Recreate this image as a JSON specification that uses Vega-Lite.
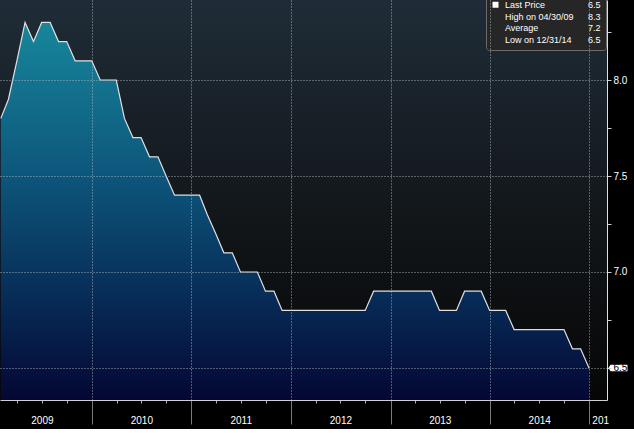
{
  "$schema": "https://vega.github.io/schema/vega-lite/v6.json",
  "width": 607,
  "height": 400,
  "autosize": "none",
  "padding": {"left": 0, "top": 0, "right": 27, "bottom": 29},
  "background": "#000000",
  "datasets": {
    "rate": [
      {"date": "2009-01-31", "rate": 7.8}, {"date": "2009-02-28", "rate": 7.9}, {"date": "2009-03-31", "rate": 8.1},
      {"date": "2009-04-30", "rate": 8.3}, {"date": "2009-05-31", "rate": 8.2}, {"date": "2009-06-30", "rate": 8.3},
      {"date": "2009-07-31", "rate": 8.3}, {"date": "2009-08-31", "rate": 8.2}, {"date": "2009-09-30", "rate": 8.2},
      {"date": "2009-10-31", "rate": 8.1}, {"date": "2009-11-30", "rate": 8.1}, {"date": "2009-12-31", "rate": 8.1},
      {"date": "2010-01-31", "rate": 8.0}, {"date": "2010-02-28", "rate": 8.0}, {"date": "2010-03-31", "rate": 8.0},
      {"date": "2010-04-30", "rate": 7.8}, {"date": "2010-05-31", "rate": 7.7}, {"date": "2010-06-30", "rate": 7.7},
      {"date": "2010-07-31", "rate": 7.6}, {"date": "2010-08-31", "rate": 7.6}, {"date": "2010-09-30", "rate": 7.5},
      {"date": "2010-10-31", "rate": 7.4}, {"date": "2010-11-30", "rate": 7.4}, {"date": "2010-12-31", "rate": 7.4},
      {"date": "2011-01-31", "rate": 7.4}, {"date": "2011-02-28", "rate": 7.3}, {"date": "2011-03-31", "rate": 7.2},
      {"date": "2011-04-30", "rate": 7.1}, {"date": "2011-05-31", "rate": 7.1}, {"date": "2011-06-30", "rate": 7.0},
      {"date": "2011-07-31", "rate": 7.0}, {"date": "2011-08-31", "rate": 7.0}, {"date": "2011-09-30", "rate": 6.9},
      {"date": "2011-10-31", "rate": 6.9}, {"date": "2011-11-30", "rate": 6.8}, {"date": "2011-12-31", "rate": 6.8},
      {"date": "2012-01-31", "rate": 6.8}, {"date": "2012-02-29", "rate": 6.8}, {"date": "2012-03-31", "rate": 6.8},
      {"date": "2012-04-30", "rate": 6.8}, {"date": "2012-05-31", "rate": 6.8}, {"date": "2012-06-30", "rate": 6.8},
      {"date": "2012-07-31", "rate": 6.8}, {"date": "2012-08-31", "rate": 6.8}, {"date": "2012-09-30", "rate": 6.8},
      {"date": "2012-10-31", "rate": 6.9}, {"date": "2012-11-30", "rate": 6.9}, {"date": "2012-12-31", "rate": 6.9},
      {"date": "2013-01-31", "rate": 6.9}, {"date": "2013-02-28", "rate": 6.9}, {"date": "2013-03-31", "rate": 6.9},
      {"date": "2013-04-30", "rate": 6.9}, {"date": "2013-05-31", "rate": 6.9}, {"date": "2013-06-30", "rate": 6.8},
      {"date": "2013-07-31", "rate": 6.8}, {"date": "2013-08-31", "rate": 6.8}, {"date": "2013-09-30", "rate": 6.9},
      {"date": "2013-10-31", "rate": 6.9}, {"date": "2013-11-30", "rate": 6.9}, {"date": "2013-12-31", "rate": 6.8},
      {"date": "2014-01-31", "rate": 6.8}, {"date": "2014-02-28", "rate": 6.8}, {"date": "2014-03-31", "rate": 6.7},
      {"date": "2014-04-30", "rate": 6.7}, {"date": "2014-05-31", "rate": 6.7}, {"date": "2014-06-30", "rate": 6.7},
      {"date": "2014-07-31", "rate": 6.7}, {"date": "2014-08-31", "rate": 6.7}, {"date": "2014-09-30", "rate": 6.7},
      {"date": "2014-10-31", "rate": 6.6}, {"date": "2014-11-30", "rate": 6.6}, {"date": "2014-12-31", "rate": 6.5}
    ]
  },
  "resolve": {"scale": {"x": "independent"}},
  "layer": [
    {
      "data": {"values": [{}]},
      "mark": {
        "type": "rect",
        "color": {"gradient": "linear", "x1": 0, "y1": 0, "x2": 0, "y2": 1,
          "stops": [{"offset": 0, "color": "#1f2c37"}, {"offset": 0.5, "color": "#13181c"}, {"offset": 1, "color": "#060606"}]}
      },
      "encoding": {}
    },
    {
      "data": {"name": "rate"},
      "mark": {
        "type": "area", "clip": true,
        "color": {"gradient": "linear", "x1": 0, "y1": 0, "x2": 0, "y2": 1,
          "stops": [{"offset": 0, "color": "#17869b"}, {"offset": 0.4, "color": "#0d577c"}, {"offset": 0.72, "color": "#072d58"}, {"offset": 1, "color": "#040733"}]}
      },
      "encoding": {
        "x": {
          "field": "date", "type": "temporal",
          "scale": {"domain": [{"year": 2009, "month": 1, "date": 28}, {"year": 2015, "month": 3, "date": 7}]},
          "axis": {
            "title": null,
            "orient": "bottom",
            "zindex": 1,
            "values": [
              {"year": 2010, "month": 1, "date": 1}, {"year": 2011, "month": 1, "date": 1}, {"year": 2012, "month": 1, "date": 1},
              {"year": 2013, "month": 1, "date": 1}, {"year": 2014, "month": 1, "date": 1}, {"year": 2015, "month": 1, "date": 1}
            ],
            "labels": false,
            "grid": true,
            "gridColor": "#b0b8c0",
            "gridDash": [1, 2],
            "gridOpacity": 0.9,
            "tickSize": 24,
            "tickColor": "#7a7a7a",
            "domainColor": "#d0d0d0"
          }
        },
        "y": {
          "field": "rate", "type": "quantitative",
          "scale": {"domain": [6.3333, 8.4167], "zero": false, "nice": false, "clamp": true},
          "axis": {
            "title": null,
            "orient": "right",
            "zindex": 1,
            "values": [6.5, 6.75, 7, 7.25, 7.5, 7.75, 8, 8.25],
            "labelExpr": "datum.value % 0.5 == 0 ? format(datum.value, '.1f') : ''",
            "labelColor": {"condition": {"test": "datum.value == 6.5", "value": "#000000"}, "value": "#ffffff"},
            "labelFontSize": 10,
            "labelPadding": 2,
            "labelOverlap": false,
            "labelBound": false,
            "labelFlush": false,
            "grid": true,
            "gridColor": "#b0b8c0",
            "gridDash": [1, 2],
            "gridOpacity": {"condition": {"test": "datum.value % 0.5 != 0", "value": 0}, "value": 0.9},
            "tickSize": 4,
            "tickColor": "#d0d0d0",
            "domainColor": "#e0e0e0"
          }
        }
      }
    },
    {
      "data": {"name": "rate"},
      "mark": {"type": "line", "color": "#e0e0e0", "strokeWidth": 1.2, "clip": true},
      "encoding": {
        "x": {
          "field": "date", "type": "temporal",
          "scale": {"domain": [{"year": 2009, "month": 1, "date": 28}, {"year": 2015, "month": 3, "date": 7}]},
          "axis": {
            "title": null,
            "orient": "bottom",
            "values": [
              {"year": 2009, "month": 7, "date": 1}, {"year": 2010, "month": 7, "date": 1}, {"year": 2011, "month": 7, "date": 1},
              {"year": 2012, "month": 7, "date": 1}, {"year": 2013, "month": 7, "date": 1}, {"year": 2014, "month": 7, "date": 1},
              {"year": 2015, "month": 2, "date": 10}
            ],
            "format": "%Y",
            "labelExpr": "datum.label == '2015' ? '201' : datum.label",
            "labelPadding": 15,
            "labelOverlap": false,
            "labelBound": false,
            "labelFlush": false,
            "labelColor": "#ffffff",
            "labelFontSize": 10,
            "ticks": false,
            "tickSize": 0,
            "domain": false,
            "grid": false
          }
        },
        "y": {"field": "rate", "type": "quantitative"}
      }
    },
    {
      "data": {"name": "rate"},
      "transform": [
        {"joinaggregate": [{"op": "max", "field": "date", "as": "maxd"}]},
        {"filter": "+datum.date == +datum.maxd"}
      ],
      "mark": {"type": "point", "shape": "M-0.75,-0.32L0.95,-0.32L0.95,0.32L-0.75,0.32L-0.95,0Z", "size": 400, "filled": true, "color": "#ffffff", "opacity": 1, "xOffset": 29, "clip": false},
      "encoding": {
        "x": {
          "field": "date", "type": "temporal",
          "scale": {"domain": [{"year": 2009, "month": 1, "date": 28}, {"year": 2015, "month": 3, "date": 7}]},
          "axis": {
            "title": null,
            "orient": "bottom",
            "values": [
              {"year": 2009, "month": 4, "date": 1}, {"year": 2009, "month": 7, "date": 1}, {"year": 2009, "month": 10, "date": 1},
              {"year": 2010, "month": 4, "date": 1}, {"year": 2010, "month": 7, "date": 1}, {"year": 2010, "month": 10, "date": 1},
              {"year": 2011, "month": 4, "date": 1}, {"year": 2011, "month": 7, "date": 1}, {"year": 2011, "month": 10, "date": 1},
              {"year": 2012, "month": 4, "date": 1}, {"year": 2012, "month": 7, "date": 1}, {"year": 2012, "month": 10, "date": 1},
              {"year": 2013, "month": 4, "date": 1}, {"year": 2013, "month": 7, "date": 1}, {"year": 2013, "month": 10, "date": 1},
              {"year": 2014, "month": 4, "date": 1}, {"year": 2014, "month": 7, "date": 1}, {"year": 2014, "month": 10, "date": 1}
            ],
            "labels": false,
            "tickSize": 3,
            "tickColor": "#b0b0b0",
            "domain": false,
            "grid": false
          }
        },
        "y": {"field": "rate", "type": "quantitative"}
      }
    },
    {
      "data": {"values": [
        {"item": "Last Price"}, {"item": "High on 04/30/09"}, {"item": "Average"}, {"item": "Low on 12/31/14"},
        {"item": "6.5"}, {"item": "8.3"}, {"item": "7.2"}, {"item": "6.5 "}
      ]},
      "transform": [{"filter": "false"}],
      "mark": {"type": "point", "filled": true, "fill": "#ffffff", "stroke": "#ffffff", "strokeWidth": 1},
      "encoding": {
        "shape": {
          "field": "item", "type": "nominal",
          "scale": {
            "domain": ["Last Price", "High on 04/30/09", "Average", "Low on 12/31/14", "6.5", "8.3", "7.2", "6.5 "],
            "range": ["square", "M-1,-1H1M0,-1V1", "M-1,0H1M0,-0.5V0.5", "M-1,1H1M0,1V-1", "M0,0", "M0,0", "M0,0", "M0,0"]
          },
          "legend": {
            "title": null,
            "orient": "none",
            "legendX": 486,
            "legendY": -5,
            "columns": 2,
            "gridAlign": "each",
            "fillColor": "#262626",
            "strokeColor": "#6a6a6a",
            "cornerRadius": 3,
            "padding": 5,
            "rowPadding": 1,
            "columnPadding": 0,
            "labelOffset": 5,
            "labelColor": "#ffffff",
            "labelFontSize": 9,
            "symbolSize": 36,
            "symbolFillColor": "#ffffff",
            "symbolStrokeColor": "#ffffff",
            "symbolStrokeWidth": 1,
            "symbolOpacity": 1
          }
        }
      }
    }
  ],
  "config": {
    "view": {"stroke": null},
    "font": "Liberation Sans, Arial, sans-serif",
    "axis": {"labelFont": "Liberation Sans, Arial, sans-serif"},
    "legend": {"labelFont": "Liberation Sans, Arial, sans-serif"}
  }
}
